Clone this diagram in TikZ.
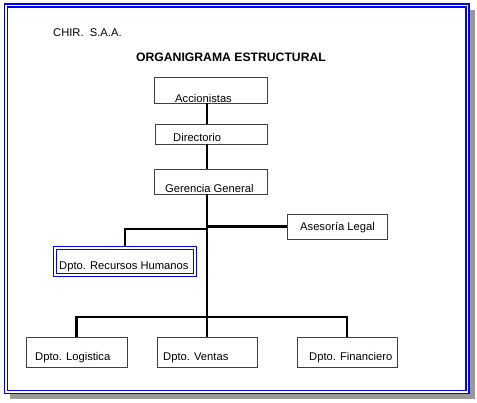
\documentclass[tikz,border=0pt]{standalone}
\usepackage{fontspec}
\setmainfont{Liberation Sans}
\begin{document}
\begin{tikzpicture}[x=1pt,y=-1pt,
  box/.style={draw=black!75,line width=0.9pt,fill=white,rectangle,inner sep=0pt},
  conn/.style={line width=2.8pt,black},
  lbl/.style={font=\fontsize{11.2}{13}\selectfont,anchor=base west,inner sep=0pt},
  frame/.style={draw=blue,double=white,line width=1.6pt,double distance=1.6pt}]
\useasboundingbox (0,0) rectangle (477,402);
% shadow and outer frame
\fill[black!40] (10,10) rectangle (475,399);
\path[fill=white] (4,4) rectangle (470,394);
\draw[frame] (6,5.5) rectangle (467.5,392);
% header texts
\node[lbl] (chir) at (53,36) {CHIR.\ \ S.A.A.};
\node[font=\fontsize{12.2}{14}\bfseries\selectfont,inner sep=0pt] (title) at (231,57) {ORGANIGRAMA ESTRUCTURAL};
% boxes
\node[box,minimum width=113,minimum height=26] (acc) at (210.5,90) {};
\node[box,minimum width=112,minimum height=20] (dir) at (211,134) {};
\node[box,minimum width=113,minimum height=25] (gg) at (210.5,181.5) {};
\node[box,minimum width=100,minimum height=25] (ase) at (337,226.5) {};
\node[rectangle,draw=blue,double=white,line width=1.1pt,double distance=1.3pt,fill=white,inner sep=0pt,minimum width=140,minimum height=27] (rh) at (125,261.5) {};
\node[box,minimum width=101,minimum height=30] (log) at (76.5,352) {};
\node[box,minimum width=100,minimum height=30] (ven) at (207,352) {};
\node[box,minimum width=100,minimum height=30] (fin) at (347,352) {};
% junctions
\coordinate (j1) at (207,229);
\coordinate (j2) at (207,317);
% connectors
\draw[conn] (acc.south -| ven.north) -- (dir.north -| ven.north);
\draw[conn] (dir.south -| ven.north) -- (gg.north -| ven.north);
\draw[conn] (gg.south -| ven.north) -- (ven.north);
\draw[conn] (ase.west) -- (ase.west -| ven.north);
\draw[conn] (rh.north) |- (j1);
\draw[conn] (log.north) |- (j2) -| (fin.north);
% labels
\node[lbl] (acct) at (175,102.5) {Accionistas};
\node[lbl] (dirt) at (173,141) {Directorio};
\node[lbl] (ggt) at (165,192) {Gerencia General};
\node[lbl] (aset) at (300,230) {Asesoría Legal};
\node[lbl] (rht) at (59,269) {Dpto. Recursos Humanos};
\node[lbl] (logt) at (35,360) {Dpto. Logistica};
\node[lbl] (vent) at (163,360) {Dpto. Ventas};
\node[lbl] (fint) at (309,360) {Dpto. Financiero};
\end{tikzpicture}
\end{document}
